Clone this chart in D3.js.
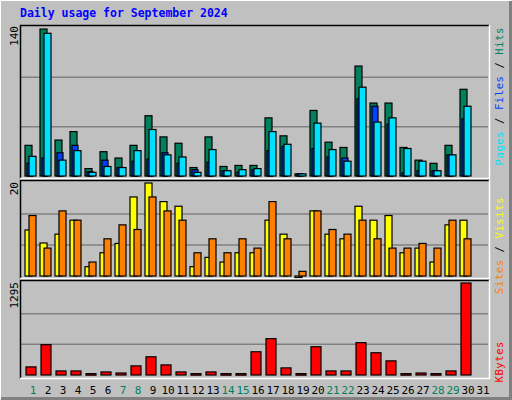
<!DOCTYPE html>
<html>
<head>
<meta charset="utf-8">
<script src="https://cdn.jsdelivr.net/npm/d3@7"></script>
<style>body{margin:0;background:#fff}</style>
</head>
<body>
<svg id="chart" width="512" height="400"></svg>
<script>
const days = d3.range(1, 32);
const weekends = [1, 7, 8, 14, 15, 21, 22, 28, 29];
const hits  = [29,139,34,42,7,23,17,29,57,37,31,8,37,9,10,10,55,38,2,62,32,27,104,69,69,27,15,12,29,82,0];
const files = [12,17,22,29,4,15,8,14,16,22,12,6,13,5,3.5,6,24,28,2,26,18,17,73,66,49,3,5,5,20,54,0];
const pages = [18.6,135,15,24,3.5,9,8,24,44,20,18,3.5,25,5,6,7,42,30,2,50,25,14,84,51,55,26,14,5,20,66,0];
const visits = [9.9,7.1,9,12,2,5,7,17,20,16,15,2,4,3,5,5,12,9,0,14,9,8,15,12,13,5,6,3,11,12,0];
const sites  = [13,6,14,12,3,8,11,10,17,14,12,5,8,5,8,6,16,8,1,14,10,9,12,8,6,6,7,6,12,8,0];
const kbytes = [114,427,57,57,19,43,28,128,256,142,43,19,43,19,19,327,512,100,19,398,57,57,455,313,199,19,28,19,57,1295,0];
const maxHits = 140, maxVisits = 20, maxKB = 1295;

const svg = d3.select("svg#chart");
const font = "DejaVu Sans Mono, monospace";

svg.append("rect").attr("width", 512).attr("height", 400).attr("fill", "#c0c0c0");
// outer bevel
svg.append("path").attr("d", "M0.5,399.5V0.5H511.5").attr("stroke", "#fff").attr("fill", "none");
svg.append("path").attr("d", "M1,398.5H510.5V1").attr("stroke", "#808080").attr("stroke-width", 3).attr("fill", "none");

svg.append("text").attr("x", 20).attr("y", 17).text("Daily usage for September 2024")
  .attr("font-family", font).attr("font-weight", "bold").attr("font-size", 11.5).attr("fill", "#0000ff");

const x = d3.scaleLinear().domain([1, 32]).range([25, 490]);

function panel(top, bottom, base) {
  svg.append("rect").attr("x", 20).attr("y", top).attr("width", 469).attr("height", bottom - top).attr("fill", "#c0c0c0");
  const yTop = top + 3, h = base - yTop;
  [1, 2].forEach(k => {
    svg.append("line").attr("x1", 21).attr("x2", 488).attr("y1", base - h * k / 3).attr("y2", base - h * k / 3)
      .attr("stroke", "#808080").attr("stroke-width", 1.5);
  });
  svg.append("path").attr("d", `M20.5,${bottom}V${top + 0.5}H489`).attr("stroke", "#000").attr("stroke-width", 1.5).attr("fill", "none");
  svg.append("path").attr("d", `M20,${bottom - 0.5}H489.5V${top}`).attr("stroke", "#fff").attr("stroke-width", 1.5).attr("fill", "none");
  return d3.scaleLinear().range([base, yTop]);
}

function bars(vals, y, dx, w, color) {
  svg.append("g").selectAll("rect").data(days.slice(0, 30)).join("rect")
    .attr("x", d => x(d) + dx).attr("width", w)
    .attr("y", d => y(vals[d - 1])).attr("height", d => Math.max(1.5, y(0) - y(vals[d - 1])))
    .attr("fill", color).attr("stroke", "#000").attr("stroke-width", 1.2);
}

const y1 = panel(25, 179, 176).domain([0, maxHits]);
bars(hits, y1, 0, 7, "#00805c");
bars(files, y1, 2, 6, "#0040ff");
bars(pages, y1, 4, 7, "#00e0ff");

const y2 = panel(180, 279, 276).domain([0, maxVisits]);
bars(visits, y2, 0, 7, "#ffff00");
bars(sites, y2, 4, 7, "#ff8000");

const y3 = panel(280, 379, 375).domain([0, maxKB]);
bars(kbytes, y3, 1, 10, "#ff0000");

// max labels
[[maxHits, 26], [maxVisits, 182], [maxKB, 282]].forEach(([v, t]) => {
  svg.append("text").attr("transform", `translate(18,${t}) rotate(-90)`).attr("text-anchor", "end")
    .attr("font-family", font).attr("font-size", 11).attr("fill", "#000").text(v);
});

// day labels
svg.append("g").selectAll("text").data(days).join("text")
  .attr("x", d => x(d) + 8).attr("y", 394).attr("text-anchor", "middle")
  .attr("font-family", font).attr("font-size", 11)
  .attr("fill", d => weekends.includes(d) ? "#00805c" : "#000").text(d => d);

// right legends
function legend(parts, yEnd) {
  const t = svg.append("text").attr("transform", `translate(503,${yEnd}) rotate(-90)`).attr("text-anchor", "end")
    .attr("font-family", font).attr("font-size", 10.5).attr("letter-spacing", 0.6).attr("xml:space", "preserve");
  parts.forEach(([s, c]) => t.append("tspan").attr("fill", c).text(s));
}
legend([["Pages", "#00e0ff"], [" / ", "#000"], ["Files", "#0040ff"], [" / ", "#000"], ["Hits", "#00805c"]], 27);
legend([["Sites", "#ff8000"], [" / ", "#000"], ["Visits", "#ffff00"]], 197);
legend([["KBytes", "#ff0000"]], 341);
</script>
</body>
</html>
